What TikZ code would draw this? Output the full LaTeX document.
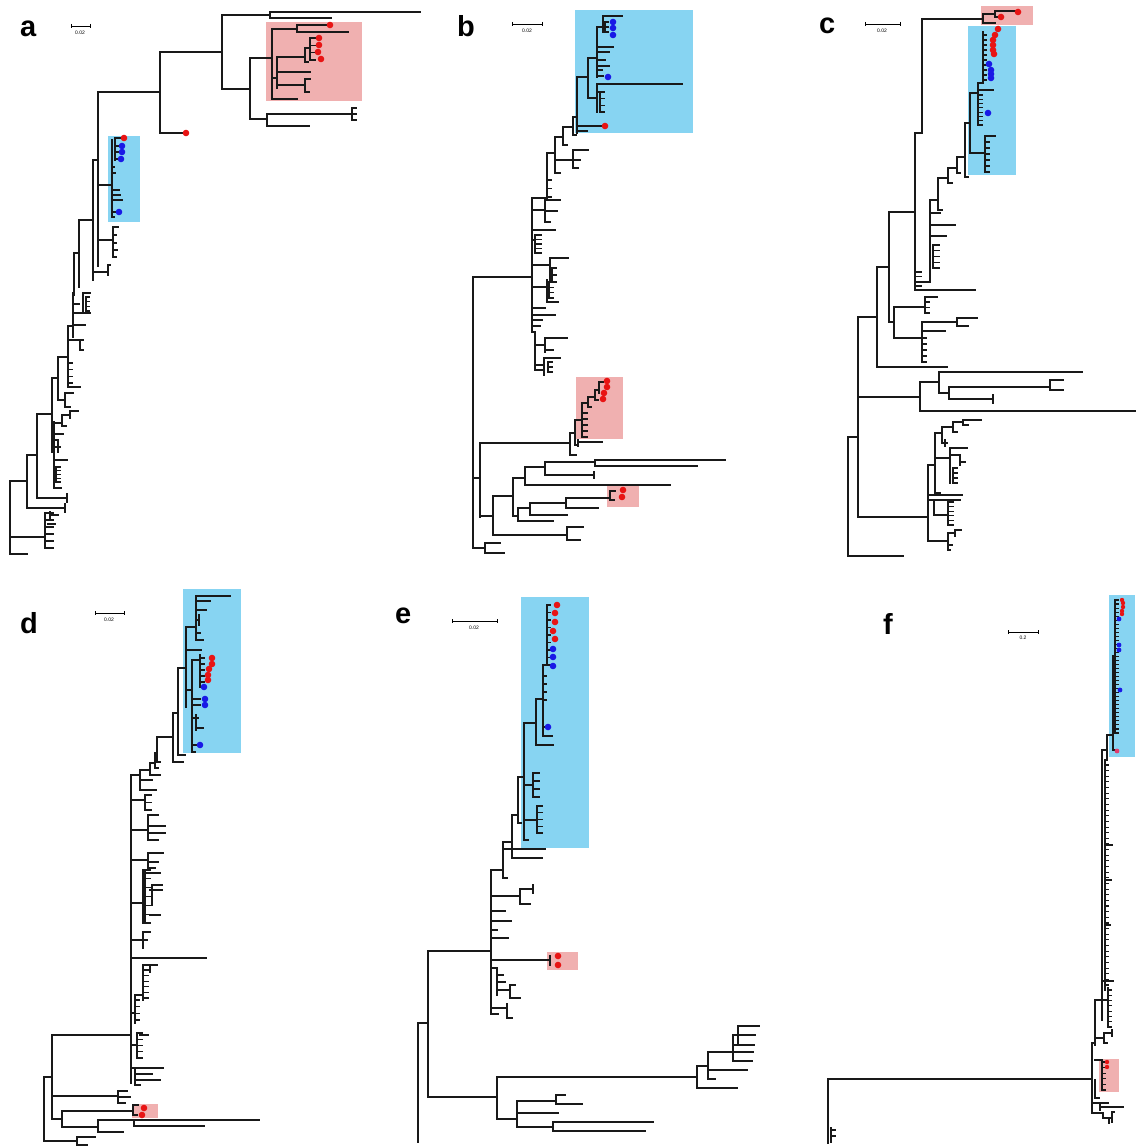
\documentclass[tikz,border=0pt]{standalone}
\usepackage{fontspec}
\setmainfont{Liberation Sans}
\definecolor{pinkbox}{RGB}{240,176,176}
\definecolor{bluebox}{RGB}{135,212,242}
\definecolor{dotred}{RGB}{232,20,20}
\definecolor{dotblue}{RGB}{25,25,230}
\definecolor{dotmag}{RGB}{225,60,110}
\tikzset{
  tr/.style={line width=1.1pt, line cap=rect, black!90},
  lab/.style={font=\fontsize{29}{30}\selectfont\bfseries, inner sep=0pt, anchor=base west},
  sclab/.style={font=\fontsize{5}{6}\selectfont, inner sep=0pt},
  scbar/.style={line width=0.8pt},
}
\newcommand\hb[3]{\draw[tr] (#1,#2)--(#3,#2);}
\newcommand\vb[3]{\draw[tr] (#1,#2)--(#1,#3);}
\newcommand\cmb[5]{\draw[tr] (#1,#2)--(#1,#3);\foreach \k in {1,...,#4}{\draw[tr] (#1,{#2+(#3-#2)*(\k-1)/(#4-1)})--++(#5,0);}}
\newcommand\rdot[2]{\fill[dotred] (#1,#2) circle[radius=3.3pt];}
\newcommand\bdot[2]{\fill[dotblue] (#1,#2) circle[radius=3.3pt];}
\newcommand\srdot[2]{\fill[dotred] (#1,#2) circle[radius=2.2pt];}
\newcommand\sbdot[2]{\fill[dotblue] (#1,#2) circle[radius=2.4pt];}
\newcommand\scbr[4]{\draw[scbar] (#1,#3)--(#2,#3) (#1,#3-2)--(#1,#3+2) (#2,#3-2)--(#2,#3+2);}
\begin{document}
\begin{tikzpicture}[x=1pt,y=-1pt]
\useasboundingbox (0,0) rectangle (1135,1147);
% ---------- boxes ----------
\fill[pinkbox] (266,22) rectangle (362,101);
\fill[bluebox] (108,136) rectangle (140,222);
\fill[bluebox] (575,10) rectangle (693,133);
\fill[pinkbox] (576,377) rectangle (623,439);
\fill[pinkbox] (607,484) rectangle (639,507);
\fill[pinkbox] (981,6) rectangle (1033,25);
\fill[bluebox] (968,26) rectangle (1016,175);
\fill[bluebox] (183,589) rectangle (241,753);
\fill[pinkbox] (132,1104) rectangle (158,1118);
\fill[bluebox] (521,597) rectangle (589,848);
\fill[pinkbox] (547,952) rectangle (578,970);
\fill[bluebox] (1109,595) rectangle (1135,757);
\fill[pinkbox] (1099,1059) rectangle (1119,1092);
% ---------- labels ----------
\node[lab] (la) at (20,37) {a};
\node[lab] (lb) at (457,37) {b};
\node[lab] (lc) at (819,34) {c};
\node[lab] (ld) at (20,633) {d};
\node[lab] (le) at (395,623) {e};
\node[lab] (lf) at (883,634) {f};
\scbr{71}{90}{26}{}  \node[sclab] (sa) at (80,33) {0.02};
\scbr{512}{542}{24}{} \node[sclab] (sb) at (527,31) {0.02};
\scbr{865}{900}{24}{} \node[sclab] (sc) at (882,31) {0.02};
\scbr{95}{124}{613}{} \node[sclab] (sd) at (109,620) {0.02};
\scbr{452}{497}{621}{} \node[sclab] (se) at (474,628) {0.02};
\scbr{1008}{1038}{632}{} \node[sclab] (sf) at (1023,638) {0.2};
% ================= PANEL A =================
\vb{10}{481}{554} \hb{10}{554}{27}
\hb{10}{537}{45} \vb{45}{513}{548} \cmb{45}{513}{548}{6}{8} \hb{50}{515}{58} \vb{50}{512}{520} \hb{48}{524}{55}
\hb{10}{481}{27} \vb{27}{455}{508} \hb{27}{508}{65} \vb{65}{504}{512}
\hb{27}{455}{37} \vb{37}{414}{498} \hb{37}{498}{67} \vb{67}{494}{502}
\hb{37}{414}{52} \vb{52}{378}{452} \hb{52}{445}{54} \vb{54}{422}{488}
\hb{54}{423}{62} \vb{62}{415}{426} \hb{62}{415}{70} \vb{70}{411}{418} \hb{70}{411}{78} \hb{62}{426}{66}
\hb{54}{434}{63} \hb{54}{440}{58} \hb{54}{447}{60} \vb{58}{440}{452} \hb{54}{460}{67}
\cmb{56}{467}{482}{5}{4} \hb{54}{488}{61}
\hb{52}{378}{58} \vb{58}{357}{400} \hb{58}{400}{65} \vb{65}{393}{407} \hb{65}{393}{73} \hb{65}{407}{70}
\hb{58}{357}{68} \vb{68}{326}{387} \hb{68}{387}{80} \cmb{68}{363}{383}{4}{4}
\hb{68}{340}{83} \vb{80}{340}{350} \hb{80}{350}{83}
\hb{68}{326}{73} \vb{73}{293}{337} \hb{73}{313}{90} \vb{83}{293}{313} \hb{83}{293}{90} \cmb{86}{297}{311}{4}{3} \hb{73}{325}{85} \hb{73}{304}{79}
\vb{74}{253}{295} \hb{74}{253}{79} \vb{79}{220}{287} \hb{79}{220}{93} \vb{93}{160}{280}
\hb{93}{272}{108} \vb{108}{265}{275} \hb{108}{265}{110}
\hb{93}{160}{98} \vb{98}{92}{266}
\hb{98}{240}{113} \vb{113}{227}{257} \hb{113}{227}{118} \hb{113}{235}{116} \hb{113}{243}{116} \hb{113}{250}{117} \hb{113}{257}{116}
\hb{98}{185}{112} \vb{112}{140}{217} \vb{115}{138}{160} \hb{115}{138}{120} \hb{115}{146}{118} \hb{115}{152}{118} \hb{115}{159}{117}
\hb{112}{167}{114} \hb{112}{173}{115} \hb{112}{190}{119} \hb{112}{195}{120} \hb{112}{200}{122} \hb{112}{212}{116} \hb{112}{217}{114}
\hb{98}{92}{160} \vb{160}{52}{133} \hb{160}{133}{182}
\hb{160}{52}{222} \vb{222}{15}{89}
\hb{222}{15}{270} \vb{270}{12}{18} \hb{270}{12}{420} \hb{270}{18}{331}
\hb{222}{89}{250} \vb{250}{58}{119}
\hb{250}{119}{267} \vb{267}{114}{126} \hb{267}{114}{352} \vb{352}{108}{120} \hb{352}{108}{356} \hb{352}{114}{356} \hb{352}{120}{356} \hb{267}{126}{309}
\hb{250}{58}{272} \vb{272}{29}{99}
\hb{272}{29}{297} \vb{297}{25}{32} \hb{297}{25}{326} \hb{297}{32}{348}
\hb{272}{78}{277} \vb{277}{57}{88}
\hb{277}{57}{305} \vb{305}{48}{62} \hb{305}{48}{310} \cmb{310}{38}{60}{4}{5} \hb{305}{62}{308}
\hb{277}{72}{310}
\hb{277}{85}{305} \vb{305}{79}{92} \hb{305}{79}{310} \hb{305}{92}{309}
\hb{272}{99}{297}
\rdot{330}{25} \rdot{319}{38} \rdot{319}{45} \rdot{318}{52} \rdot{321}{59}
\rdot{186}{133}
\rdot{124}{138} \bdot{122}{146} \bdot{122}{152} \bdot{121}{159} \bdot{119}{212}
% ================= PANEL B =================
\vb{473}{277}{548} \hb{473}{277}{532}
\hb{473}{548}{485} \vb{485}{543}{553} \hb{485}{543}{500} \hb{485}{553}{504}
\hb{473}{478}{480} \vb{480}{443}{517}
\hb{480}{443}{570} \vb{570}{433}{455} \hb{570}{433}{575} \vb{575}{420}{445}
\hb{575}{420}{582} \vb{582}{403}{437} \cmb{582}{413}{437}{5}{5}
\hb{582}{403}{588} \vb{588}{397}{407} \hb{588}{407}{591}
\hb{588}{397}{595} \vb{595}{390}{400} \hb{595}{400}{598}
\hb{595}{390}{599} \vb{599}{382}{393} \hb{599}{382}{603}
\hb{575}{445}{578} \vb{578}{440}{446} \hb{578}{442}{602} \hb{570}{455}{576}
\rdot{607}{381} \rdot{607}{387} \rdot{604}{393} \rdot{603}{399}
\hb{480}{516}{493} \vb{493}{496}{535}
\hb{493}{535}{567} \vb{567}{527}{540} \hb{567}{527}{583} \hb{567}{540}{580}
\hb{493}{496}{513} \vb{513}{478}{516}
\hb{513}{478}{525} \vb{525}{467}{485} \hb{525}{485}{670}
\hb{525}{467}{545} \vb{545}{462}{475}
\hb{545}{462}{595} \vb{595}{460}{466} \hb{595}{460}{725} \hb{595}{466}{697}
\hb{545}{475}{594} \vb{594}{472}{478}
\hb{513}{516}{518} \vb{518}{508}{521} \hb{518}{521}{553}
\hb{518}{508}{530} \vb{530}{503}{515} \hb{530}{515}{567}
\hb{530}{503}{566} \vb{566}{498}{508} \hb{566}{508}{598}
\hb{566}{498}{610} \vb{610}{491}{500} \hb{610}{491}{615} \hb{610}{500}{614}
\rdot{623}{490} \rdot{622}{497}
% upper b
\vb{532}{198}{332}
\hb{532}{210}{545} \vb{545}{200}{222} \hb{545}{200}{560} \hb{545}{211}{557} \hb{545}{222}{550}
\hb{532}{230}{555} \cmb{535}{235}{253}{5}{6} \hb{532}{240}{535}
\hb{532}{265}{550} \vb{550}{258}{282} \hb{550}{258}{568} \cmb{552}{268}{282}{3}{4}
\hb{532}{287}{547} \vb{547}{280}{302} \hb{547}{302}{558} \cmb{549}{282}{298}{4}{4}
\hb{532}{308}{545} \hb{532}{315}{555} \hb{532}{320}{542} \hb{532}{326}{540}
\hb{532}{332}{535} \vb{535}{332}{370}
\hb{535}{345}{545} \vb{545}{338}{352} \hb{545}{338}{567} \hb{545}{350}{553}
\hb{535}{365}{544} \vb{544}{358}{375} \hb{544}{358}{560} \cmb{548}{362}{372}{3}{4} \hb{535}{370}{544}
\hb{532}{198}{547} \vb{547}{153}{200} \cmb{547}{180}{197}{3}{4}
\hb{547}{153}{555} \vb{555}{137}{173}
\hb{555}{160}{573} \vb{573}{150}{168} \hb{573}{150}{588} \hb{573}{160}{580} \hb{573}{168}{578} \hb{555}{173}{560}
\hb{555}{137}{563} \vb{563}{127}{145} \hb{563}{145}{567}
\hb{563}{127}{573} \vb{573}{117}{135} \hb{573}{135}{576}
\hb{573}{117}{577} \vb{577}{77}{133} \hb{577}{131}{587} \hb{577}{126}{601}
\hb{577}{77}{588} \vb{588}{58}{98}
\hb{588}{98}{597} \vb{597}{84}{112} \hb{597}{84}{682} \cmb{600}{92}{112}{4}{4} \hb{597}{92}{600}
\hb{588}{58}{597} \vb{597}{27}{77}
\hb{597}{27}{603} \vb{603}{16}{32} \hb{603}{16}{622} \cmb{605}{22}{32}{3}{3}
\hb{597}{47}{613} \hb{597}{52}{609} \hb{597}{60}{605} \hb{597}{66}{609} \hb{597}{70}{602} \hb{597}{76}{603}
\rdot{605}{126} \bdot{613}{22} \bdot{613}{28} \bdot{613}{35} \bdot{608}{77}
% ================= PANEL C =================
\vb{848}{437}{556} \hb{848}{556}{903} \hb{848}{437}{858}
\vb{858}{317}{517}
\hb{858}{517}{928} \vb{928}{465}{541}
\hb{928}{465}{935} \vb{935}{433}{493} \hb{935}{433}{942} \vb{942}{427}{443} \hb{942}{427}{953} \vb{953}{422}{432} \hb{953}{422}{963} \vb{963}{420}{425} \hb{963}{420}{981} \hb{963}{425}{968} \hb{953}{432}{957} \hb{942}{443}{947} \vb{945}{440}{446}
\hb{935}{458}{950} \vb{950}{448}{483} \hb{950}{448}{967} \hb{950}{455}{960} \vb{960}{455}{465} \hb{960}{462}{965} \cmb{953}{468}{483}{4}{4} \hb{935}{493}{940}
\hb{928}{495}{962} \hb{930}{500}{960} \vb{934}{500}{515}
\hb{934}{515}{948} \vb{948}{502}{525} \cmb{948}{502}{525}{6}{5}
\hb{928}{541}{948} \vb{948}{533}{550} \hb{948}{533}{955} \vb{955}{530}{536} \hb{955}{530}{961} \hb{948}{545}{952} \hb{948}{550}{950}
\hb{858}{397}{920} \vb{920}{382}{411} \hb{920}{411}{1135}
\hb{920}{382}{939} \vb{939}{372}{393} \hb{939}{372}{1082}
\hb{939}{393}{949} \vb{949}{387}{399} \hb{949}{387}{1050} \vb{1050}{380}{390} \hb{1050}{380}{1063} \hb{1050}{390}{1063} \hb{949}{399}{993} \vb{993}{395}{403}
\hb{858}{317}{877} \vb{877}{267}{367} \hb{877}{367}{947}
\hb{877}{267}{889} \vb{889}{212}{322} \hb{889}{322}{894} \vb{894}{307}{338}
\hb{894}{307}{925} \vb{925}{297}{313} \hb{925}{297}{937} \cmb{925}{302}{313}{3}{4}
\hb{894}{338}{922} \vb{922}{322}{362} \hb{922}{322}{957} \vb{957}{318}{326} \hb{957}{318}{977} \hb{957}{326}{968} \hb{922}{331}{945} \cmb{922}{338}{362}{5}{4}
\hb{889}{212}{915} \vb{915}{133}{290} \hb{915}{290}{975} \cmb{915}{272}{286}{4}{6}
\hb{915}{282}{930} \vb{930}{200}{282}
\hb{930}{213}{940} \hb{930}{225}{955} \hb{930}{236}{946} \cmb{933}{245}{268}{5}{6}
\hb{930}{200}{938} \vb{938}{178}{210} \hb{938}{210}{942}
\hb{938}{178}{948} \vb{948}{168}{183} \hb{948}{183}{952}
\hb{948}{168}{957} \vb{957}{157}{173} \hb{957}{173}{960}
\hb{957}{157}{965} \vb{965}{123}{177} \hb{965}{177}{968}
\hb{965}{123}{970} \vb{970}{93}{153}
\hb{970}{153}{985} \vb{985}{137}{172} \hb{985}{136}{995} \cmb{985}{142}{172}{6}{4}
\hb{970}{93}{978} \vb{978}{83}{125} \cmb{978}{95}{125}{8}{4} \hb{978}{90}{993}
\hb{978}{83}{983} \vb{983}{32}{83} \cmb{983}{35}{80}{10}{3}
\hb{915}{133}{922} \vb{922}{19}{133}
\hb{922}{19}{983} \vb{983}{14}{23} \hb{983}{14}{995} \vb{995}{11}{17} \hb{995}{11}{1016} \hb{995}{17}{999} \hb{983}{23}{995}
\rdot{1018}{12} \rdot{1001}{17}
\rdot{998}{29} \rdot{995}{35} \rdot{993}{40} \rdot{993}{45} \rdot{993}{50} \rdot{994}{54}
\bdot{989}{64} \bdot{991}{70} \bdot{991}{74} \bdot{991}{78} \bdot{988}{113}
% ================= PANEL D =================
\vb{44}{1077}{1141} \hb{44}{1141}{77} \vb{77}{1137}{1145} \hb{77}{1137}{95} \hb{77}{1145}{87}
\hb{44}{1077}{52} \vb{52}{1035}{1119}
\hb{52}{1119}{62} \vb{62}{1111}{1127}
\hb{62}{1111}{133} \vb{133}{1105}{1115} \hb{133}{1105}{138} \hb{133}{1115}{137}
\hb{62}{1127}{98} \vb{98}{1120}{1132} \hb{98}{1120}{134} \vb{134}{1120}{1126} \hb{134}{1120}{259} \hb{134}{1126}{204} \hb{98}{1132}{123}
\hb{52}{1096}{118} \vb{118}{1091}{1103} \hb{118}{1091}{127} \hb{118}{1097}{130} \hb{118}{1103}{125}
\hb{52}{1035}{131} \vb{131}{775}{1083}
\hb{131}{958}{206}
\hb{131}{1068}{163} \vb{135}{1068}{1085} \hb{135}{1074}{152} \hb{135}{1080}{160} \hb{135}{1085}{140}
\hb{131}{1045}{137} \vb{137}{1033}{1058} \cmb{137}{1033}{1058}{5}{5} \hb{140}{1035}{148}
\hb{131}{1013}{135} \vb{135}{995}{1023} \cmb{135}{1000}{1020}{4}{4} \hb{135}{995}{143} \vb{143}{965}{1000} \cmb{143}{970}{998}{6}{5} \hb{143}{965}{155} \vb{150}{965}{972} \hb{150}{965}{157}
\hb{131}{903}{143} \vb{143}{870}{923} \cmb{145}{870}{923}{7}{5} \hb{145}{873}{160} \hb{150}{890}{162} \vb{152}{885}{905} \hb{152}{885}{162} \hb{150}{915}{160}
\hb{131}{940}{143} \vb{143}{932}{948} \hb{143}{932}{150} \hb{143}{940}{147}
\hb{131}{800}{145} \vb{145}{795}{810} \cmb{145}{795}{810}{3}{6}
\hb{131}{830}{148} \vb{148}{815}{840} \hb{148}{815}{158} \hb{148}{826}{165} \hb{148}{833}{165} \hb{148}{840}{158}
\hb{131}{860}{148} \vb{148}{853}{868} \hb{148}{853}{163} \hb{148}{862}{158} \hb{148}{868}{155}
\hb{131}{775}{140} \vb{140}{770}{790} \hb{140}{780}{152} \hb{140}{790}{156}
\hb{140}{770}{150} \vb{150}{763}{775} \hb{150}{775}{160}
\hb{150}{763}{155} \vb{155}{753}{768} \hb{155}{768}{158}
\hb{155}{753}{157} \vb{157}{737}{762} \hb{157}{762}{160}
\hb{157}{737}{173} \vb{173}{713}{762} \hb{173}{762}{183}
\hb{173}{713}{178} \vb{178}{668}{755} \hb{178}{755}{185}
\hb{178}{668}{186} \vb{186}{627}{707}
\hb{186}{627}{196} \vb{196}{596}{640}
\hb{196}{596}{230} \hb{196}{601}{210} \hb{196}{610}{206} \hb{196}{620}{199} \vb{199}{615}{625} \hb{196}{633}{200} \hb{196}{640}{203}
\hb{186}{650}{201}
\hb{186}{690}{192} \vb{192}{660}{752} \hb{192}{660}{200} \vb{200}{655}{687} \cmb{200}{658}{682}{5}{4} \hb{200}{687}{202}
\hb{192}{699}{200} \hb{192}{705}{200} \hb{192}{718}{198} \vb{196}{715}{730} \hb{196}{728}{203} \hb{192}{745}{197} \hb{192}{752}{195}
\rdot{144}{1108} \rdot{142}{1115}
\rdot{212}{658} \rdot{212}{664} \rdot{209}{669} \rdot{208}{675} \rdot{208}{680}
\bdot{204}{687} \bdot{205}{699} \bdot{205}{705} \bdot{200}{745}
% ================= PANEL E =================
\vb{418}{1023}{1142} \hb{418}{1023}{428} \vb{428}{951}{1097} \hb{428}{1097}{497} \vb{497}{1077}{1119}
\hb{497}{1077}{697} \vb{697}{1066}{1088} \hb{697}{1088}{737} \hb{697}{1066}{708} \vb{708}{1052}{1079} \hb{708}{1079}{715} \hb{708}{1070}{747} \hb{708}{1052}{733} \vb{733}{1035}{1061} \hb{733}{1061}{752} \hb{733}{1052}{753} \hb{733}{1045}{754} \hb{733}{1035}{738} \vb{738}{1026}{1045} \hb{738}{1026}{759} \hb{738}{1035}{755}
\hb{497}{1119}{517} \vb{517}{1101}{1127} \hb{517}{1101}{556} \vb{556}{1095}{1104} \hb{556}{1095}{565} \hb{556}{1104}{582} \hb{517}{1113}{558} \hb{517}{1127}{553} \vb{553}{1122}{1131} \hb{553}{1122}{653} \hb{553}{1131}{645}
\hb{428}{951}{491} \vb{491}{870}{1014}
\hb{491}{960}{550} \vb{550}{956}{965}
\hb{491}{968}{497} \vb{497}{968}{995} \hb{497}{975}{503} \hb{497}{982}{505} \hb{497}{990}{510} \vb{510}{985}{998} \hb{510}{985}{515} \hb{510}{998}{520} \hb{491}{1008}{507} \vb{507}{1004}{1018} \hb{507}{1018}{512} \hb{491}{1014}{498}
\hb{491}{911}{505} \hb{491}{921}{511} \hb{491}{938}{508} \hb{491}{930}{497}
\hb{491}{896}{520} \vb{520}{889}{904} \hb{520}{889}{533} \vb{533}{885}{893} \hb{520}{904}{530}
\hb{491}{870}{503} \vb{503}{842}{878} \hb{503}{849}{545} \hb{503}{878}{507}
\hb{503}{842}{512} \vb{512}{815}{858} \hb{512}{858}{542}
\hb{512}{815}{518} \vb{518}{777}{823} \hb{518}{823}{521}
\hb{518}{777}{524} \vb{524}{723}{840} \hb{524}{840}{528}
\hb{524}{785}{533} \cmb{533}{773}{797}{4}{6}
\hb{524}{820}{537} \cmb{537}{806}{833}{5}{5}
\hb{524}{723}{536} \vb{536}{699}{745} \hb{536}{745}{553}
\hb{536}{699}{543} \vb{543}{665}{736} \hb{543}{736}{552} \hb{543}{727}{545}
\cmb{543}{676}{700}{4}{3}
\hb{543}{665}{547} \cmb{547}{605}{665}{9}{3}
\rdot{558}{956} \rdot{558}{965}
\rdot{557}{605} \rdot{555}{613} \rdot{555}{622} \rdot{553}{631} \rdot{555}{639}
\bdot{553}{649} \bdot{553}{657} \bdot{553}{666} \bdot{548}{727}
% ================= PANEL F =================
\vb{828}{1079}{1143} \hb{828}{1079}{1092}
\vb{831}{1128}{1142} \hb{831}{1130}{835} \hb{831}{1136}{835}
\vb{1092}{1043}{1113} \hb{1092}{1043}{1095} \vb{1095}{1000}{1045} \vb{1095}{1080}{1098}
\hb{1095}{1000}{1102} \vb{1102}{750}{1020}
\vb{1105}{760}{990} \cmb{1105}{765}{985}{40}{3}
\hb{1105}{845}{1112} \hb{1105}{880}{1111} \hb{1105}{925}{1110}
\hb{1102}{981}{1113} \vb{1108}{988}{1027} \cmb{1108}{990}{1027}{8}{3} \hb{1102}{1000}{1108}
\hb{1095}{1038}{1104} \vb{1104}{1033}{1043} \hb{1104}{1033}{1112} \vb{1112}{1030}{1036} \hb{1104}{1043}{1107}
\hb{1095}{1060}{1102} \vb{1102}{1062}{1090} \cmb{1102}{1062}{1090}{6}{3}
\hb{1095}{1098}{1099}
\hb{1092}{1103}{1108} \hb{1100}{1107}{1123} \vb{1100}{1103}{1110}
\hb{1092}{1113}{1103} \vb{1103}{1113}{1118} \hb{1103}{1118}{1112} \vb{1112}{1112}{1122} \hb{1112}{1112}{1114} \vb{1109}{1118}{1123}
\hb{1102}{750}{1107} \vb{1107}{735}{760} \hb{1107}{735}{1113} \vb{1113}{656}{750} \hb{1113}{750}{1115}
\hb{1113}{656}{1115} \cmb{1115}{600}{733}{34}{3}
\srdot{1122}{600} \srdot{1123}{603} \srdot{1123}{607} \srdot{1122}{611} \srdot{1122}{614}
\sbdot{1119}{619} \sbdot{1119}{645} \sbdot{1119}{650} \sbdot{1120}{690}
\fill[dotmag] (1117,751) circle[radius=2.4pt];
\srdot{1107}{1062} \srdot{1107}{1067}
\end{tikzpicture}
\end{document}
